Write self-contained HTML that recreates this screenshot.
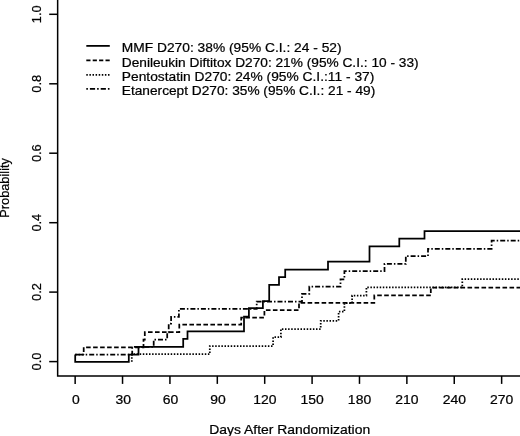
<!DOCTYPE html>
<html><head><meta charset="utf-8"><title>Cumulative incidence</title>
<style>
html,body{margin:0;padding:0;background:#fff}
svg{display:block}
text{font-family:"Liberation Sans",Arial,Helvetica,sans-serif;font-size:12.8px;fill:#000;stroke:#000;stroke-width:0.22px}
.ax{stroke:#000;stroke-width:1.5;fill:none}
.cv{stroke:#000;stroke-width:1.75;fill:none;stroke-linejoin:miter;stroke-linecap:butt}
</style></head>
<body>
<svg width="520" height="436" viewBox="0 0 520 436">
<rect width="520" height="436" fill="#fff"/>
<path class="ax" d="M57.65,0 V375.9 H520"/>
<path class="ax" d="M49.2,361.6 H57.65"/>
<text transform="translate(41.0,361.6) scale(1.07,1) rotate(-90)" text-anchor="middle">0.0</text>
<path class="ax" d="M49.2,292.1 H57.65"/>
<text transform="translate(41.0,292.1) scale(1.07,1) rotate(-90)" text-anchor="middle">0.2</text>
<path class="ax" d="M49.2,222.7 H57.65"/>
<text transform="translate(41.0,222.7) scale(1.07,1) rotate(-90)" text-anchor="middle">0.4</text>
<path class="ax" d="M49.2,153.2 H57.65"/>
<text transform="translate(41.0,153.2) scale(1.07,1) rotate(-90)" text-anchor="middle">0.6</text>
<path class="ax" d="M49.2,83.8 H57.65"/>
<text transform="translate(41.0,83.8) scale(1.07,1) rotate(-90)" text-anchor="middle">0.8</text>
<path class="ax" d="M49.2,14.3 H57.65"/>
<text transform="translate(41.0,14.3) scale(1.07,1) rotate(-90)" text-anchor="middle">1.0</text>
<path class="ax" d="M75.15,375.9 V383.9"/>
<text transform="translate(75.8,404.3) scale(1.09,1)" text-anchor="middle">0</text>
<path class="ax" d="M122.54,375.9 V383.9"/>
<text transform="translate(123.2,404.3) scale(1.09,1)" text-anchor="middle">30</text>
<path class="ax" d="M169.93,375.9 V383.9"/>
<text transform="translate(170.6,404.3) scale(1.09,1)" text-anchor="middle">60</text>
<path class="ax" d="M217.31,375.9 V383.9"/>
<text transform="translate(218.0,404.3) scale(1.09,1)" text-anchor="middle">90</text>
<path class="ax" d="M264.70,375.9 V383.9"/>
<text transform="translate(264.8,404.3) scale(1.09,1)" text-anchor="middle">120</text>
<path class="ax" d="M312.09,375.9 V383.9"/>
<text transform="translate(312.1,404.3) scale(1.09,1)" text-anchor="middle">150</text>
<path class="ax" d="M359.48,375.9 V383.9"/>
<text transform="translate(359.5,404.3) scale(1.09,1)" text-anchor="middle">180</text>
<path class="ax" d="M406.87,375.9 V383.9"/>
<text transform="translate(406.9,404.3) scale(1.09,1)" text-anchor="middle">210</text>
<path class="ax" d="M454.25,375.9 V383.9"/>
<text transform="translate(454.3,404.3) scale(1.09,1)" text-anchor="middle">240</text>
<path class="ax" d="M501.64,375.9 V383.9"/>
<text transform="translate(501.7,404.3) scale(1.09,1)" text-anchor="middle">270</text>
<text transform="translate(289.7,433.6) scale(1.088,1)" text-anchor="middle">Days After Randomization</text>
<text transform="translate(9.4,187.9) scale(1.07,1) rotate(-90)" text-anchor="middle">Probability</text>
<path class="cv" d="M131.8,361.8 L131.8,361.8 L131.8,354.2 L209.8,354.2 L209.8,346.0 L273.1,346.0 L273.1,337.1 L280.9,337.1 L280.9,329.0 L320.7,329.0 L320.7,320.8 L338.6,320.8 L338.6,311.6 L344.4,311.6 L344.4,303.2 L352.1,303.2 L352.1,295.5 L366.4,295.5 L366.4,287.3 L462.3,287.3 L462.3,279.2 L521.0,279.2" stroke-dasharray="1.5 1.6"/>
<path class="cv" d="M75.2,354.7 L132.2,354.7 L132.2,346.9 L153.7,346.9 L153.7,339.5 L167.2,339.5 L167.2,332.4 L168.7,332.4 L168.7,323.5 L171.1,323.5 L171.1,316.9 L178.9,316.9 L178.9,308.9 L256.7,308.9 L256.7,301.5 L302.0,301.5 L302.0,293.9 L309.3,293.9 L309.3,286.6 L340.5,286.6 L340.5,279.3 L344.4,279.3 L344.4,271.2 L384.5,271.2 L384.5,263.9 L405.8,263.9 L405.8,256.1 L428.0,256.1 L428.0,248.8 L491.6,248.8 L491.6,240.7 L521.0,240.7" stroke-dasharray="1.5 2 5 2"/>
<path class="cv" d="M83.7,354.7 L83.7,354.7 L83.7,347.3 L143.5,347.3 L143.5,339.6 L144.8,339.6 L144.8,332.2 L179.3,332.2 L179.3,324.6 L241.2,324.6 L241.2,317.5 L264.4,317.5 L264.4,310.1 L299.0,310.1 L299.0,302.8 L374.3,302.8 L374.3,295.4 L430.8,295.4 L430.8,287.7 L521.0,287.7" stroke-dasharray="4.6 2.4" stroke-dashoffset="4.2"/>
<path class="cv" d="M75.2,354.7 H83.7" stroke-dasharray="4.6 2.4"/>
<path class="cv" d="M75.2,354.6 L75.2,361.8 L128.8,361.8 L128.8,354.6 L138.5,354.6 L138.5,346.8 L183.2,346.8 L183.2,338.9 L187.5,338.9 L187.5,331.4 L244.0,331.4 L244.0,316.6 L248.9,316.6 L248.9,308.1 L262.9,308.1 L262.9,301.1 L269.2,301.1 L269.2,284.9 L279.0,284.9 L279.0,277.2 L285.2,277.2 L285.2,269.7 L328.0,269.7 L328.0,261.7 L369.5,261.7 L369.5,246.3 L399.3,246.3 L399.3,238.6 L424.5,238.6 L424.5,231.0 L521.0,231.0"/>
<path class="cv" d="M86.3,45.9 H109.8"/>
<text transform="translate(121.8,52.3) scale(1.077,1)">MMF D270: 38% (95% C.I.: 24 - 52)</text>
<path class="cv" d="M86.3,60.3 H109.8" stroke-dasharray="4.2 2.2"/>
<text transform="translate(121.8,66.7) scale(1.07,1)">Denileukin Diftitox D270: 21% (95% C.I.: 10 - 33)</text>
<path class="cv" d="M86.3,74.8 H109.8" stroke-dasharray="1.5 1.6"/>
<text transform="translate(121.8,81.1) scale(1.077,1)">Pentostatin D270: 24% (95% C.I.:11 - 37)</text>
<path class="cv" d="M86.3,88.9 H109.8" stroke-dasharray="1.6 2 5.2 2"/>
<text transform="translate(121.8,95.3) scale(1.07,1)">Etanercept D270: 35% (95% C.I.: 21 - 49)</text>
</svg>
</body></html>
